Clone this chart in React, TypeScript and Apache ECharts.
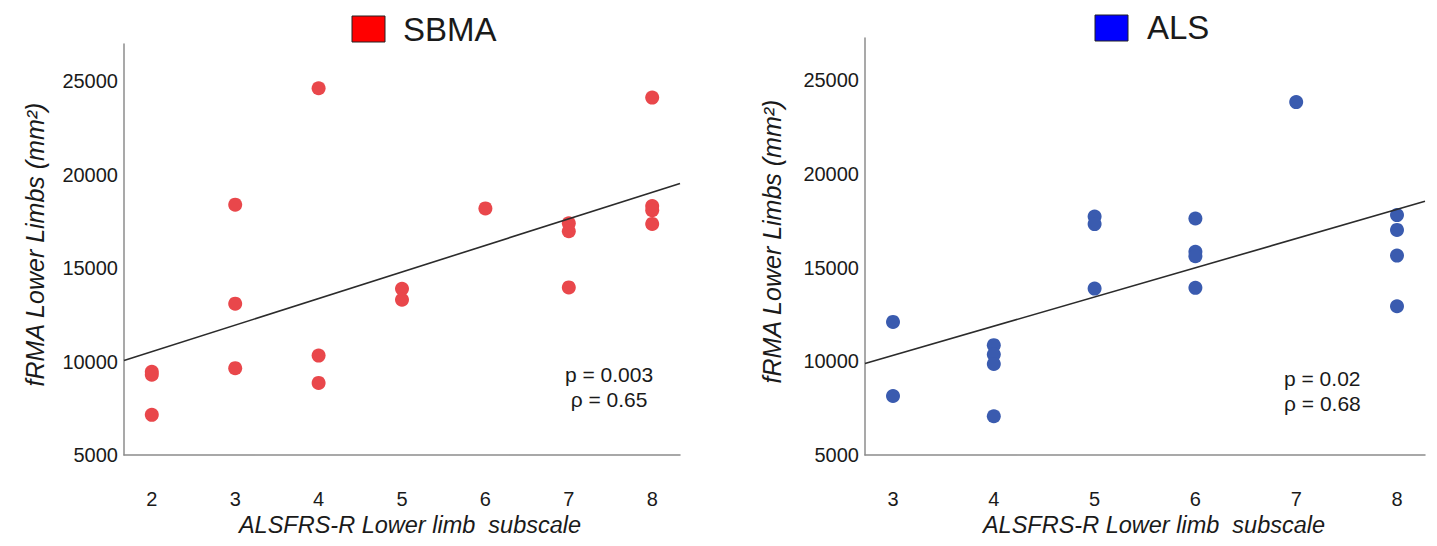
import React, { useEffect, useRef } from "react";
import * as echarts from "echarts";

// ---- SBMA panel data (ALSFRS-R lower limb subscale vs fRMA) ----
const sbmaX = [2, 2, 2, 3, 3, 3, 4, 4, 4, 5, 5, 6, 7, 7, 7, 8, 8, 8, 8];
const sbmaY = [9450, 9300, 7150, 18400, 13100, 9650, 24630, 10320, 8860, 13900, 13310, 18200, 17400, 16980, 13970, 24130, 18330, 18100, 17370];
const sbmaFitX = [1.6667, 8.3333];
const sbmaFitY = [10056, 19538];

// ---- ALS panel data ----
const alsX = [3, 3, 4, 4, 4, 4, 5, 5, 5, 6, 6, 6, 6, 7, 8, 8, 8, 8];
const alsY = [12100, 8150, 10860, 10360, 9860, 7070, 17720, 17320, 13880, 17620, 15840, 15610, 13920, 23830, 17800, 17010, 15640, 12940];
const alsFitX = [2.7222, 8.2778];
const alsFitY = [9880, 18540];

// ---- tick labels ----
const sbmaXTicks = [2, 3, 4, 5, 6, 7, 8];
const alsXTicks = [3, 4, 5, 6, 7, 8];
const yTicks = [5000, 10000, 15000, 20000, 25000];

const FONT = '"Liberation Sans", Arial, sans-serif';
const AXIS_COLOR = "#8c8c8c";
const TEXT_COLOR = "#1a1a1a";

const zip = (xs: number[], ys: number[]) => xs.map((x, i) => [x, ys[i]]);

function xAxisDef(gridIndex: number, min: number, max: number, ticks: number[], shift: number) {
  return {
    type: "value",
    gridIndex,
    min,
    max,
    splitLine: { show: false },
    axisTick: { show: false },
    axisLine: { show: true, lineStyle: { color: AXIS_COLOR, width: 1.5 } },
    axisLabel: {
      customValues: ticks,
      formatter: (v: number) => String(v),
      fontSize: 20,
      color: TEXT_COLOR,
      fontFamily: FONT,
      margin: 34,
    },
    name: "ALSFRS-R Lower limb  subscale",
    nameLocation: "middle",
    nameGap: 57,
    nameTextStyle: {
      fontSize: 23.5,
      fontStyle: "italic",
      color: TEXT_COLOR,
      fontFamily: FONT,
      padding: [0, 0, 0, shift],
    },
  };
}

function yAxisDef(gridIndex: number, max: number, nameGap: number) {
  return {
    type: "value",
    gridIndex,
    min: 5000,
    max,
    splitLine: { show: false },
    axisTick: { show: false },
    axisLine: { show: true, lineStyle: { color: AXIS_COLOR, width: 1.5 } },
    axisLabel: {
      customValues: yTicks,
      formatter: (v: number) => String(v),
      fontSize: 20,
      color: TEXT_COLOR,
      fontFamily: FONT,
      margin: 6,
    },
    name: "fRMA Lower Limbs (mm²)",
    nameLocation: "middle",
    nameGap,
    nameTextStyle: {
      fontSize: 25,
      fontStyle: "italic",
      color: TEXT_COLOR,
      fontFamily: FONT,
      padding: [0, 0, 0, 10],
    },
  };
}

function txt(text: string, x: number, y: number, align: string, size = 20) {
  return {
    type: "text",
    x,
    y,
    style: {
      text,
      fill: TEXT_COLOR,
      fontSize: size,
      fontFamily: FONT,
      textAlign: align,
      textVerticalAlign: "middle",
      align,
      verticalAlign: "middle",
    },
  };
}

export default function App() {
  const ref = useRef<HTMLDivElement>(null);
  useEffect(() => {
    const chart = echarts.init(ref.current!, null, { renderer: "svg" });
    chart.setOption({
      animation: false,
      backgroundColor: "#ffffff",
      grid: [
        { left: 124, top: 44, width: 556, height: 411, containLabel: false },
        { left: 865, top: 38, width: 560, height: 417, containLabel: false },
      ],
      xAxis: [
        xAxisDef(0, 1.6667, 8.3333, sbmaXTicks, 16),
        xAxisDef(1, 2.7222, 8.2778, alsXTicks, 18),
      ],
      yAxis: [yAxisDef(0, 27000, 77), yAxisDef(1, 27250, 81)],
      series: [
        {
          type: "scatter",
          xAxisIndex: 0,
          yAxisIndex: 0,
          data: zip(sbmaX, sbmaY),
          symbolSize: 14,
          itemStyle: { color: "#E9474B", opacity: 1 },
          z: 2,
        },
        {
          type: "line",
          xAxisIndex: 0,
          yAxisIndex: 0,
          data: zip(sbmaFitX, sbmaFitY),
          symbol: "none",
          lineStyle: { color: "#2b2b2b", width: 1.6 },
          z: 3,
        },
        {
          type: "scatter",
          xAxisIndex: 1,
          yAxisIndex: 1,
          data: zip(alsX, alsY),
          symbolSize: 14,
          itemStyle: { color: "#3A5BAF", opacity: 1 },
          z: 2,
        },
        {
          type: "line",
          xAxisIndex: 1,
          yAxisIndex: 1,
          data: zip(alsFitX, alsFitY),
          symbol: "none",
          lineStyle: { color: "#2b2b2b", width: 1.6 },
          z: 3,
        },
      ],
      graphic: [
        {
          type: "rect",
          shape: { x: 352, y: 16, width: 33, height: 26 },
          style: { fill: "#FF0000", stroke: "#222", lineWidth: 1 },
        },
        txt("SBMA", 403, 29, "left", 33),
        {
          type: "rect",
          shape: { x: 1095, y: 15, width: 33, height: 26 },
          style: { fill: "#0000FF", stroke: "#222", lineWidth: 1 },
        },
        txt("ALS", 1147, 27, "left", 33),
        txt("p = 0.003", 609, 374, "center", 21),
        txt("ρ = 0.65", 609, 399, "center", 21),
        txt("p = 0.02", 1284, 378, "left", 21),
        txt("ρ = 0.68", 1284, 403, "left", 21),
      ],
    });
    return () => chart.dispose();
  }, []);
  return (
    <div
      ref={ref}
      style={{
        position: "fixed",
        left: 0,
        top: 0,
        width: 1437,
        height: 546,
        background: "#fff",
      }}
    />
  );
}
